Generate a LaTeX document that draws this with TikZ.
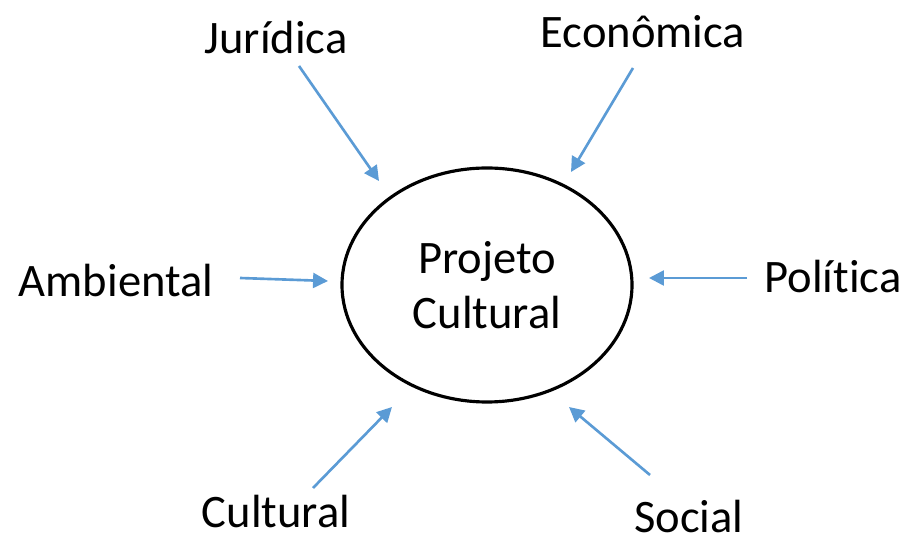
\documentclass[tikz,border=0pt]{standalone}
\usepackage{fontspec}
\setmainfont{Carlito}[Ligatures=NoCommon]
\usetikzlibrary{arrows.meta,positioning,shapes.geometric}

\begin{document}
\begin{tikzpicture}[x=0.02cm,y=-0.02cm,
    lbl/.style={font=\fontsize{26.5}{32}\selectfont, inner sep=0pt},
    seta/.style={draw={rgb,255:red,91;green,155;blue,213}, line width=1.5pt,
        -{Triangle[length=8.5pt,width=8.5pt]}}]
    \useasboundingbox (0,0) rectangle (907,536);
    % Centre
    \node[draw, line width=1.8pt, ellipse, minimum width=290*0.02cm, minimum height=234*0.02cm,
        align=center, lbl] (proj) at (487,285) {Projeto\\[-1pt]Cultural};

    % Labels
    \node[lbl] (jur) at (276,38) {Jurídica};
    \node[lbl] (eco) at (643,32) {Econômica};
    \node[lbl] (amb) at (116,281) {Ambiental};
    \node[lbl] (pol) at (833,277) {Polít\kern0pt ica};
    \node[lbl] (cul) at (276,512) {Cultural};
    \node[lbl] (soc) at (689,517) {Social};

    % Arrow ends
    \coordinate (jurA) at (299,66);  \coordinate (jurB) at (379,181);
    \coordinate (ecoA) at (633,68);  \coordinate (ecoB) at (571,172);
    \coordinate (ambA) at (240,278); \coordinate (ambB) at (328,281);
    \coordinate (polA) at (747,278); \coordinate (polB) at (649,278);
    \coordinate (culA) at (313,488); \coordinate (culB) at (392,407);
    \coordinate (socA) at (650,475); \coordinate (socB) at (569,407);

    \foreach \n in {jur,eco,amb,pol,cul,soc}
        \draw[seta] (\n A) -- (\n B);
\end{tikzpicture}
\end{document}
